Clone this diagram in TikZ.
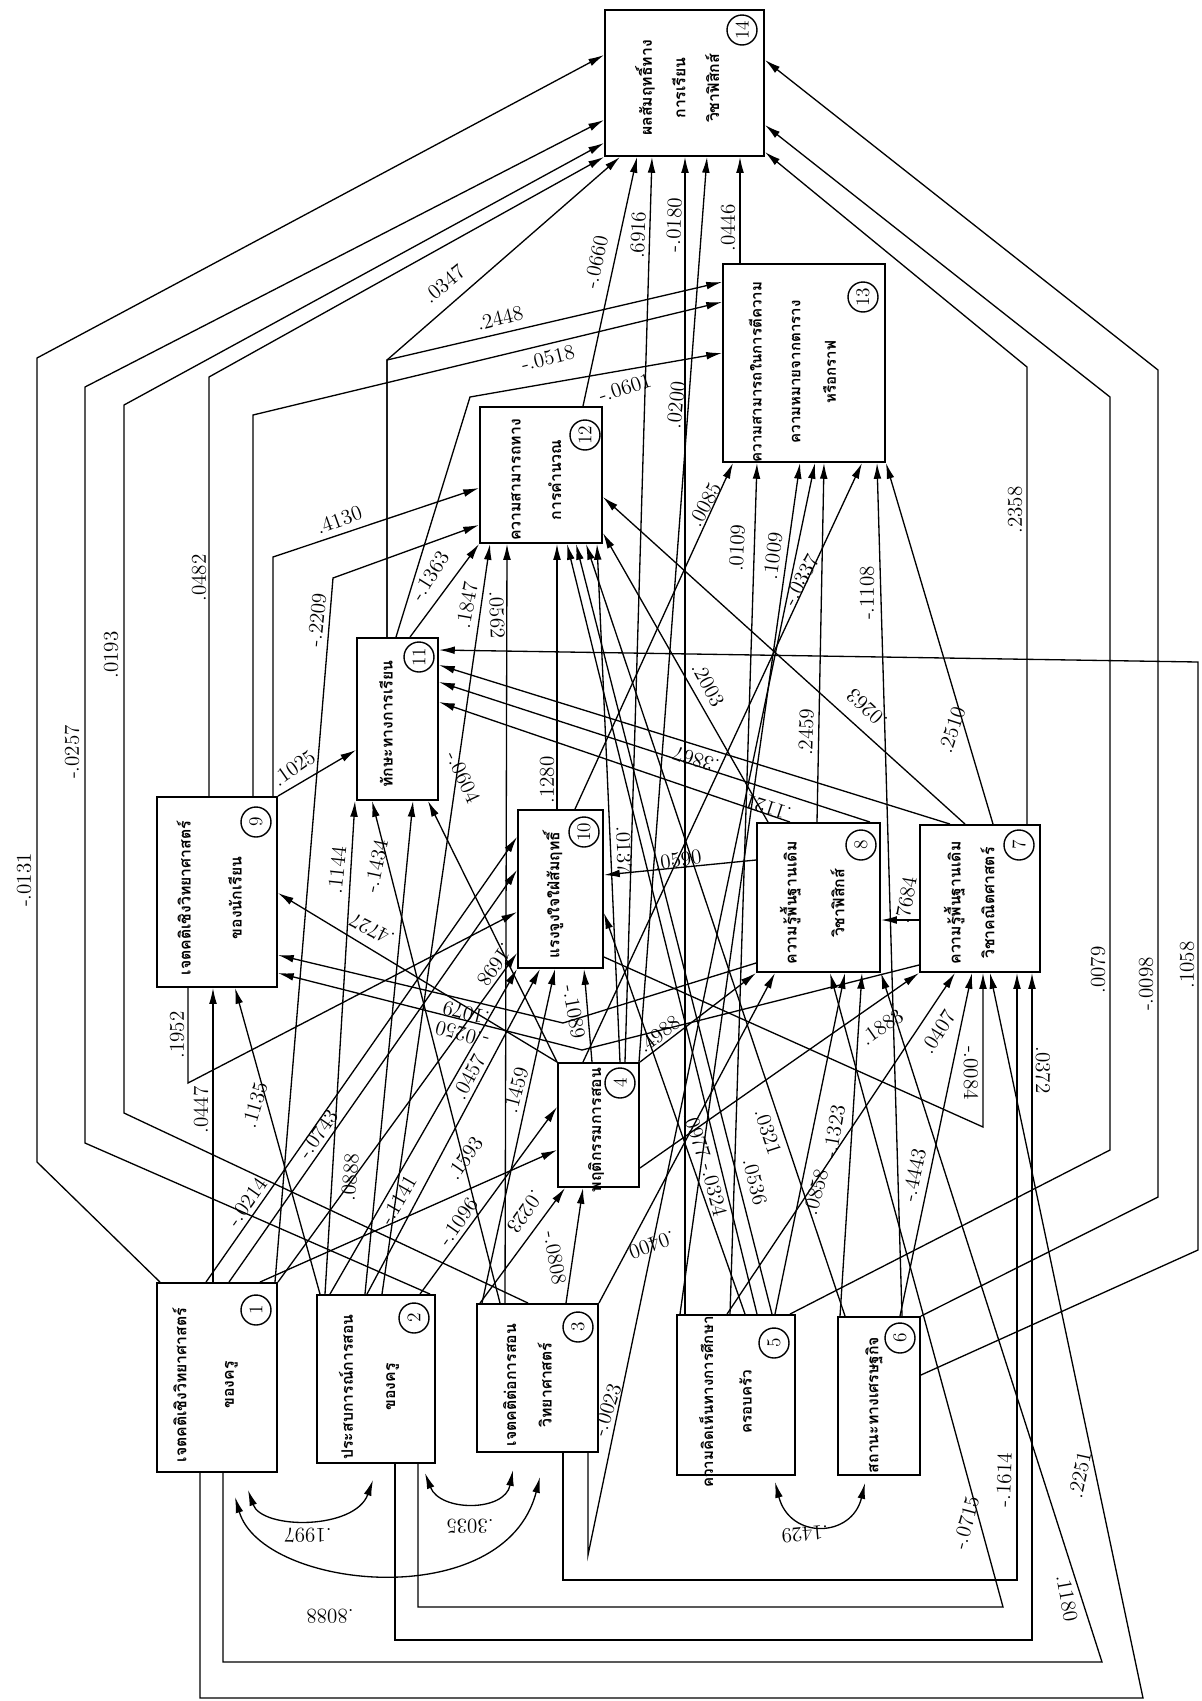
\documentclass[tikz,border=0pt]{standalone}
\usepackage{fontspec}
\usepackage{graphicx}
\newfontfamily\thaifont[Script=Thai]{Loma}
\usetikzlibrary{arrows.meta}
\usetikzlibrary{backgrounds}

\tikzset{
  box/.style={draw, fill=white, line width=1.1pt, inner sep=0pt},
  txt/.style={inner sep=0pt, font=\thaifont\bfseries\fontsize{9}{11}\selectfont},
  small/.style={font=\thaifont\bfseries\fontsize{8.6}{10}\selectfont},
  num/.style={draw, circle, fill=white, line width=0.8pt, minimum size=0.6cm, inner sep=0pt, font=\fontsize{11}{11}\selectfont},
  arr/.style={-{Latex[length=9pt,width=4.4pt]}, line width=0.75pt},
  dbl/.style={{Latex[length=9pt,width=4.4pt]}-{Latex[length=9pt,width=4.4pt]}, line width=0.75pt},
  lab/.style={inner sep=0pt, font=\fontsize{12}{12}\selectfont},
}

\begin{document}
\begin{tikzpicture}[x=0.02cm, y=-0.02cm]
\useasboundingbox (0,0) rectangle (1202,1701);

% boxes
\node[box, minimum width=3.18cm, minimum height=2.92cm] (b14) at (684.5,83) {};
\node[box, minimum width=3.24cm, minimum height=3.96cm] (b13) at (804,363) {};
\node[box, minimum width=2.44cm, minimum height=2.72cm] (b12) at (541,475) {};
\node[box, minimum width=1.62cm, minimum height=3.24cm] (b11) at (397.5,719) {};
\node[box, minimum width=2.40cm, minimum height=3.80cm] (b9) at (217,892) {};
\node[box, minimum width=1.70cm, minimum height=3.16cm] (b10) at (560.5,889) {};
\node[box, minimum width=2.46cm, minimum height=2.98cm] (b8) at (818.5,897.5) {};
\node[box, minimum width=2.40cm, minimum height=2.94cm] (b7) at (980,898.5) {};
\node[box, minimum width=1.62cm, minimum height=2.48cm] (b4) at (598.5,1125) {};
\node[box, minimum width=2.40cm, minimum height=3.78cm] (b1) at (217,1377.5) {};
\node[box, minimum width=2.36cm, minimum height=3.36cm] (b2) at (376,1379) {};
\node[box, minimum width=2.42cm, minimum height=2.96cm] (b3) at (537.5,1378) {};
\node[box, minimum width=2.36cm, minimum height=3.20cm] (b5) at (736,1395) {};
\node[box, minimum width=1.64cm, minimum height=3.16cm] (b6) at (879,1396) {};

% box texts
\node[txt] (t14) at (680,88) {\rotatebox{90}{\begin{tabular}{@{}c@{}}ผลสัมฤทธิ์ทาง\\[8pt]การเรียน\\[8pt]วิชาฟิสิกส์\end{tabular}}};
\node[txt, small] (t13) at (795,372) {\rotatebox{90}{\begin{tabular}{@{}c@{}}ความสามารถในการตีความ\\[12pt]ความหมายจากตาราง\\[10pt]หรือกราฟ\end{tabular}}};
\node[txt] (t12) at (537,480) {\rotatebox{90}{\begin{tabular}{@{}c@{}}ความสามารถทาง\\[12pt]การคำนวณ\end{tabular}}};
\node[txt] (t11) at (386,724) {\rotatebox{90}{ทักษะทางการเรียน}};
\node[txt] (t9) at (212,898) {\rotatebox{90}{\begin{tabular}{@{}c@{}}เจตคติเชิงวิทยาศาสตร์\\[18pt]ของนักเรียน\end{tabular}}};
\node[txt] (t10) at (553,895) {\rotatebox{90}{แรงจูงใจใฝ่สัมฤทธิ์}};
\node[txt] (t8) at (815,903) {\rotatebox{90}{\begin{tabular}{@{}c@{}}ความรู้พื้นฐานเดิม\\[16pt]วิชาฟิสิกส์\end{tabular}}};
\node[txt] (t7) at (972,903) {\rotatebox{90}{\begin{tabular}{@{}c@{}}ความรู้พื้นฐานเดิม\\[8pt]วิชาคณิตศาสตร์\end{tabular}}};
\node[txt] (t4) at (596,1130) {\rotatebox{90}{พฤติกรรมการสอน}};
\node[txt] (t1) at (206,1385) {\rotatebox{90}{\begin{tabular}{@{}c@{}}เจตคติเชิงวิทยาศาสตร์\\[16pt]ของครู\end{tabular}}};
\node[txt] (t2) at (370,1387) {\rotatebox{90}{\begin{tabular}{@{}c@{}}ประสบการณ์การสอน\\[13pt]ของครู\end{tabular}}};
\node[txt] (t3) at (530,1385) {\rotatebox{90}{\begin{tabular}{@{}c@{}}เจตคติต่อการสอน\\[9pt]วิทยาศาสตร์\end{tabular}}};
\node[txt, small] (t5) at (728,1402) {\rotatebox{90}{\begin{tabular}{@{}c@{}}ความคิดเห็นทางการศึกษา\\[12pt]ครอบครัว\end{tabular}}};
\node[txt] (t6) at (874,1405) {\rotatebox{90}{สถานะทางเศรษฐกิจ}};

% numbers
\node[num] (n14) at (742,30) {\rotatebox{90}{14}};
\node[num] (n13) at (863,297) {\rotatebox{90}{13}};
\node[num] (n12) at (585,435) {\rotatebox{90}{12}};
\node[num] (n11) at (419,657) {\rotatebox{90}{11}};
\node[num] (n9) at (256,822) {\rotatebox{90}{9}};
\node[num] (n10) at (584,832) {\rotatebox{90}{10}};
\node[num] (n8) at (861,845) {\rotatebox{90}{8}};
\node[num] (n7) at (1019,845) {\rotatebox{90}{7}};
\node[num] (n4) at (620,1083) {\rotatebox{90}{4}};
\node[num] (n1) at (256,1310) {\rotatebox{90}{1}};
\node[num] (n2) at (414,1318) {\rotatebox{90}{2}};
\node[num] (n3) at (578,1327) {\rotatebox{90}{3}};
\node[num] (n5) at (774,1343) {\rotatebox{90}{5}};
\node[num] (n6) at (900,1338) {\rotatebox{90}{6}};

\begin{pgfonlayer}{background}
% into 14
\draw[arr] (b1.north -| 160,0) -- (37,1162) -- (37,358) -- (b14.west |- 0,55);
\draw[arr] (b2.north -| 430,0) -- (85,1143) -- (85,387) -- (b14.west |- 0,120);
\draw[arr] (b3.north -| 528,0) -- (124,1113) -- (124,405) -- (b14.west |- 0,143);
\draw[arr] (b9.north -| 209,0) -- (209,377) -- (b14.south west);
\draw[arr] (b11.north -| 387,0) -- (387,360) -- (b14.south -| 620,0);
\draw[arr] (b12.north -| 583,0) -- (b14.south -| 637,0);
\draw[arr] (b4.north -| 625,0) -- (b14.south -| 652,0);
\draw[arr] (b5.north -| 685,0) -- (b14.south -| 685,0);
\draw[arr] (b4.north -| 639,0) -- (b14.south -| 707,0);
\draw[arr] (b13.north -| 740,0) -- (b14.south -| 740,0);
\draw[arr] (b7.north -| 1027,0) -- (1027,367) -- (b14.east |- 0,152);
\draw[arr] (b5.north -| 790,0) -- (1110,1150) -- (1110,397) -- (b14.east |- 0,125);
\draw[arr] (b6.north east) -- (1158,1197) -- (1158,370) -- (b14.east |- 0,60);
% into 13
\draw[arr] (b11.north -| 387,0) -- (387,360) -- (b13.west |- 0,282);
\draw[arr] (b9.north -| 253,0) -- (253,415) -- (b13.west |- 0,302);
\draw[arr] (b11.north -| 396,0) -- (470,397) -- (b13.west |- 0,353);
\draw[arr] (b10.north -| 575,0) -- (b13.south -| 733,0);
\draw[arr] (b5.north -| 730,0) -- (b13.south -| 757,0);
\draw[arr] (b5.north -| 680,0) -- (b13.south -| 800,0);
\draw[arr] (b3.south -| 588,0) -- (588,1555) -- (b13.south -| 815,0);
\draw[arr] (b8.north -| 817,0) -- (b13.south -| 824,0);
\draw[arr] (b4.north -| 583,0) -- (b13.south -| 862,0);
\draw[arr] (b6.north -| 902,0) -- (b13.south -| 877,0);
\draw[arr] (b7.north -| 993,0) -- (b13.south east);
% into 12
\draw[arr] (b9.north -| 273,0) -- (273,557) -- (b12.west |- 0,488);
\draw[arr] (b1.north -| 275,0) -- (333,578) -- (b12.west |- 0,525);
\draw[arr] (b11.north -| 410,0) -- (b12.south west);
\draw[arr] (b2.north -| 382,0) -- (b12.south -| 490,0);
\draw[arr] (b3.north -| 505,0) -- (b12.south -| 507,0);
\draw[arr] (b10.north -| 557,0) -- (b12.south -| 557,0);
\draw[arr] (b5.north -| 757,0) -- (b12.south -| 567,0);
\draw[arr] (b5.north -| 772,0) -- (b12.south -| 576,0);
\draw[arr] (b6.north -| 845,0) -- (b12.south -| 586,0);
\draw[arr] (b4.north -| 620,0) -- (b12.south -| 597,0);
\draw[arr] (b7.north -| 965,0) -- (b12.east |- 0,497);
\draw[arr] (b8.north -| 768,0) -- (b12.east |- 0,533);
% into 11
\draw[arr] (b9.north east) -- (b11.west |- 0,750);
\draw[arr] (b2.north -| 325,0) -- (b11.south -| 355,0);
\draw[arr] (b3.north -| 500,0) -- (b11.south -| 372,0);
\draw[arr] (b2.north -| 365,0) -- (b11.south -| 413,0);
\draw[arr] (b4.north west) -- (b11.south -| 428,0);
\draw[arr] (b7.north -| 950,0) -- (b11.east |- 0,665);
\draw[arr] (b8.north -| 870,0) -- (b11.east |- 0,682);
\draw[arr] (b8.north -| 790,0) -- (b11.east |- 0,702);
\draw[arr] (b6.east |- 0,1375) -- (1198,1250) -- (1198,662) -- (b11.east |- 0,650);
% into 10
\draw[arr] (b9.south -| 188,0) -- (188,1083) -- (b10.west |- 0,912);
\draw[arr] (b1.north -| 229,0) -- (b10.west |- 0,870);
\draw[arr] (b1.north -| 206,0) -- (b10.west |- 0,837);
\draw[arr] (b1.north east) -- (b10.west |- 0,953);
\draw[arr] (b2.north -| 330,0) -- (b10.south west);
\draw[arr] (b2.north -| 367,0) -- (b10.south -| 540,0);
\draw[arr] (b3.north -| 482,0) -- (b10.south -| 555,0);
\draw[arr] (b4.north -| 592,0) -- (b10.south -| 584,0);
\draw[arr] (b8.west |- 0,860) -- (b10.east |- 0,875);
\draw[arr] (b5.north -| 745,0) -- (b10.east |- 0,913);
% into 9
\draw[arr] (b1.north -| 213,0) -- (b9.south -| 213,0);
\draw[arr] (b2.north -| 320,0) -- (b9.south -| 235,0);
\draw[arr] (b4.north west) -- (b9.east |- 0,893);
\draw[arr] (b8.west |- 0,963) -- (563,1023) -- (b9.east |- 0,955);
\draw[arr] (b7.west |- 0,965) -- (582,1050) -- (b9.east |- 0,973);
% into 8
\draw[arr] (b7.west |- 0,920) -- (b8.east |- 0,920);
\draw[arr] (b4.north east) -- (b8.south west);
\draw[arr] (b3.north east) -- (b8.south -| 775,0);
\draw[arr] (b5.north -| 775,0) -- (b8.south -| 845,0);
\draw[arr] (b6.north -| 840,0) -- (b8.south -| 862,0);
\draw[arr] (b2.south -| 418,0) -- (418,1607) -- (1003,1607) -- (b8.south -| 830,0);
\draw[arr] (b1.south -| 223,0) -- (223,1662) -- (1102,1662) -- (b8.south east);
% into 7
\draw[arr] (b1.south -| 200,0) -- (200,1698) -- (1143,1698) -- (b7.south -| 990,0);
\draw[arr] (b3.south -| 563,0) -- (563,1580) -- (1017,1580) -- (b7.south -| 1017,0);
\draw[arr] (b2.south -| 395,0) -- (395,1640) -- (1032,1640) -- (b7.south -| 1032,0);
\draw[arr] (b4.east |- 0,1168) -- (b7.south west);
\draw[arr] (b5.north -| 727,0) -- (b7.south -| 955,0);
\draw[arr] (b6.north -| 900,0) -- (b7.south -| 972,0);
\draw[arr] (b10.east |- 0,957) -- (983,1127) -- (b7.south -| 983,0);
% into 4
\draw[arr] (b2.north -| 420,0) -- (b4.west |- 0,1107);
\draw[arr] (b1.north -| 260,0) -- (b4.west |- 0,1150);
\draw[arr] (b3.north -| 480,0) -- (b4.south -| 565,0);
\draw[arr] (b3.north -| 566,0) -- (b4.south -| 583,0);
\end{pgfonlayer}

% correlations
\coordinate (c1a) at (248,1490);
\coordinate (c2a) at (373,1480);
\coordinate (c1b) at (235,1497);
\coordinate (c3b) at (540,1477);
\coordinate (c2c) at (425,1473);
\coordinate (c3c) at (513,1470);
\coordinate (c5d) at (775,1482);
\coordinate (c6d) at (865,1483);
\draw[dbl] (c1a) .. controls (262,1530) and (355,1530) .. (c2a);
\draw[dbl] (c1b) .. controls (262,1590) and (505,1615) .. (c3b);
\draw[dbl] (c2c) .. controls (440,1512) and (505,1512) .. (c3c);
\draw[dbl] (c5d) .. controls (790,1540) and (852,1538) .. (c6d);

% coefficients
\node[lab, rotate=90] (w0131) at (24,880) {-.0131};
\node[lab, rotate=90] (w0257) at (72,752) {-.0257};
\node[lab, rotate=90] (w0193) at (111,655) {.0193};
\node[lab, rotate=90] (w0482) at (199,578) {.0482};
\node[lab, rotate=20] (w4130) at (339,520) {.4130};
\node[lab, rotate=84] (w2209) at (317,620) {-.2209};
\node[lab, rotate=35] (w1025) at (294,768) {.1025};
\node[lab, rotate=40] (w0347) at (444,284) {.0347};
\node[lab, rotate=14] (w2448) at (500,318) {.2448};
\node[lab, rotate=14] (w0518) at (548,358) {-.0518};
\node[lab, rotate=18] (w0601) at (625,388) {-.0601};
\node[lab, rotate=78] (w0660) at (596,262) {-.0660};
\node[lab, rotate=88] (w6916) at (638,235) {.6916};
\node[lab, rotate=88] (w0180) at (674,225) {-.0180};
\node[lab, rotate=90] (w0446) at (728,228) {.0446};
\node[lab, rotate=84] (w0200) at (676,405) {.0200};
\node[lab, rotate=58] (w1363) at (430,576) {-.1363};
\node[lab, rotate=80] (w1847) at (467,605) {.1847};
\node[lab, rotate=-88] (w0562) at (497,615) {.0562};
\node[lab, rotate=62] (w0085) at (705,505) {.0085};
\node[lab, rotate=87] (w0109) at (737,548) {.0109};
\node[lab, rotate=83] (w1009) at (773,556) {.1009};
\node[lab, rotate=-62] (w2003) at (708,685) {.2003};
\node[lab, rotate=62] (w0337) at (801,580) {-.0337};
\node[lab, rotate=90] (w1108) at (867,593) {-.1108};
\node[lab, rotate=90] (w2358) at (1015,510) {.2358};
\node[lab, rotate=72] (w2510) at (952,730) {.2510};
\node[lab, rotate=137] (w0263) at (867,708) {.0263};
\node[lab, rotate=88] (w2459) at (806,732) {.2459};
\node[lab, rotate=162] (w3867) at (696,760) {.3867};
\node[lab, rotate=162] (w1121) at (768,808) {.1121};
\node[lab, rotate=90] (w1280) at (547,780) {.1280};
\node[lab, rotate=-65] (w0604) at (463,777) {-.0604};
\node[lab, rotate=-88] (w0137) at (624,850) {.0137};
\node[lab, rotate=84] (w1144) at (337,870) {.1144};
\node[lab, rotate=78] (w1434) at (376,866) {-.1434};
\node[lab, rotate=153] (w4727) at (372,930) {.4727};
\node[lab, rotate=90] (w1952) at (177,1035) {.1952};
\node[lab, rotate=90] (w0447) at (201,1110) {.0447};
\node[lab, rotate=74] (w1135) at (255,1105) {.1135};
\node[lab, rotate=55] (w0214) at (247,1202) {-.0214};
\node[lab, rotate=55] (w0743) at (318,1134) {-.0743};
\node[lab, rotate=85] (w0888) at (350,1177) {.0888};
\node[lab, rotate=8] (w0590) at (678,860) {.0590};
\node[lab, rotate=235] (w1698) at (495,965) {.1698};
\node[lab, rotate=166] (w1079) at (466,1013) {.1079};
\node[lab, rotate=165] (w0250) at (462,1034) {-.0250};
\node[lab, rotate=62] (w0457) at (469,1077) {.0457};
\node[lab, rotate=75] (w1459) at (516,1090) {.1459};
\node[lab, rotate=55] (w1593) at (465,1158) {.1593};
\node[lab, rotate=55] (w1096) at (458,1222) {-.1096};
\node[lab, rotate=60] (w1141) at (398,1200) {-.1141};
\node[lab, rotate=235] (w0223) at (525,1212) {.0223};
\node[lab, rotate=-80] (w0808) at (555,1258) {-.0808};
\node[lab, rotate=-80] (w1089) at (574,1012) {-.1089};
\node[lab, rotate=38] (w4988) at (659,1034) {.4988};
\node[lab, rotate=-72] (w0977) at (697,1135) {.0977};
\node[lab, rotate=200] (w0400) at (652,1245) {.0400};
\node[lab, rotate=-76] (w0324) at (714,1190) {-.0324};
\node[lab, rotate=-76] (w0536) at (755,1182) {.0536};
\node[lab, rotate=-72] (w0321) at (768,1132) {.0321};
\node[lab, rotate=80] (w7684) at (906,900) {.7684};
\node[lab, rotate=35] (w1883) at (882,1027) {.1883};
\node[lab, rotate=58] (w0407) at (938,1032) {.0407};
\node[lab, rotate=-90] (w0084) at (971,1073) {-.0084};
\node[lab, rotate=-90] (w0372) at (1043,1070) {.0372};
\node[lab, rotate=80] (w1323) at (834,1132) {-.1323};
\node[lab, rotate=78] (w4443) at (914,1175) {-.4443};
\node[lab, rotate=75] (w0858) at (816,1192) {.0858};
\node[lab, rotate=90] (w0079) at (1098,970) {.0079};
\node[lab, rotate=90] (w0098) at (1146,984) {-.0098};
\node[lab, rotate=90] (w1058) at (1187,965) {.1058};
\node[lab, rotate=180] (w1997) at (308,1535) {.1997};
\node[lab, rotate=180] (w8088) at (330,1616) {.8088};
\node[lab, rotate=180] (w3035) at (470,1526) {.3035};
\node[lab, rotate=72] (w0023) at (607,1410) {-.0023};
\node[lab, rotate=185] (w1429) at (805,1534) {.1429};
\node[lab, rotate=75] (w0715) at (966,1523) {-.0715};
\node[lab, rotate=88] (w1614) at (1004,1480) {-.1614};
\node[lab, rotate=78] (w2251) at (1080,1475) {.2251};
\node[lab, rotate=-80] (w1180) at (1067,1598) {.1180};
\end{tikzpicture}
\end{document}
